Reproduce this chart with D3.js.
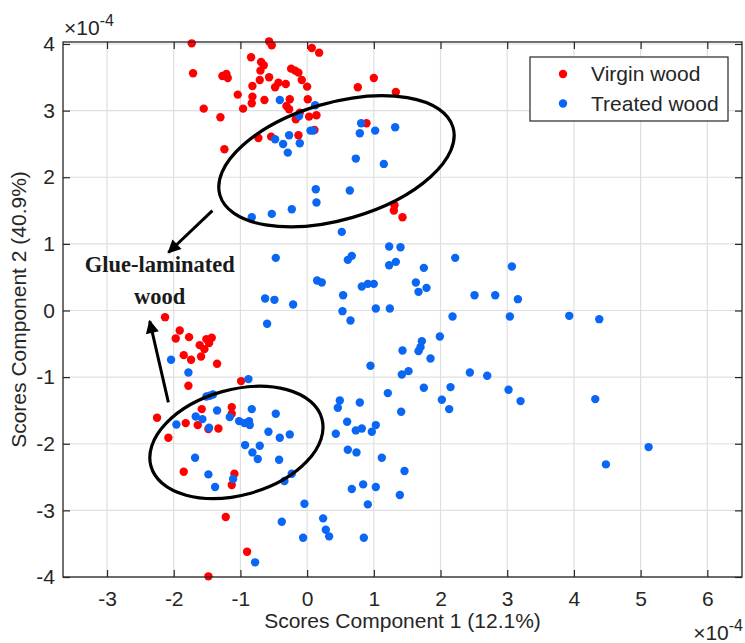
<!DOCTYPE html>
<html>
<head>
<meta charset="utf-8">
<script src="https://cdn.jsdelivr.net/npm/d3@7"></script>
<style>
  body { margin: 0; background: #fff; }
  svg { display: block; }
  text { font-family: "Liberation Sans", Arial, sans-serif; fill: #262626; }
</style>
</head>
<body>
<svg id="viz" width="745" height="643"></svg>
<script>
// scores, units of 1e-4
const virgin = [
  [-1.73, 4.01], [-0.57, 4.04], [-0.53, 3.98], [0.07, 3.94], [0.18, 3.87],
  [-0.84, 3.80], [-0.69, 3.73], [-0.65, 3.68], [-0.70, 3.60], [-1.71, 3.56],
  [-1.27, 3.52], [-1.21, 3.55], [-1.19, 3.49], [-0.57, 3.50], [-0.71, 3.46],
  [-0.24, 3.63], [-0.18, 3.60], [-0.13, 3.57], [-0.08, 3.46], [-0.43, 3.42],
  [-0.32, 3.40], [-0.48, 3.35], [0.00, 3.36], [-0.82, 3.37], [-1.04, 3.24],
  [-0.82, 3.21], [-0.83, 3.11], [-0.64, 3.16], [-0.26, 3.17], [0.01, 3.17],
  [-1.55, 3.03], [-0.96, 3.03], [-0.31, 3.07], [-0.27, 3.02], [-1.30, 2.90],
  [-0.11, 2.97], [-0.17, 2.87], [0.03, 2.91], [0.14, 2.93], [-0.73, 2.59],
  [-0.54, 2.61], [-0.13, 2.63], [0.11, 2.71], [-1.24, 2.42], [1.00, 3.49],
  [0.76, 3.35], [1.33, 3.28], [0.89, 2.81], [1.31, 1.58], [1.30, 1.50],
  [1.43, 1.40],
  [-2.13, -0.10], [-1.91, -0.30], [-1.97, -0.42], [-1.77, -0.40], [-1.51, -0.43],
  [-1.43, -0.41], [-1.47, -0.49], [-1.61, -0.52], [-1.54, -0.58], [-1.85, -0.67],
  [-1.74, -0.74], [-1.59, -0.69], [-1.35, -0.80], [-1.78, -1.13], [-0.99, -1.06],
  [-2.25, -1.61], [-2.08, -1.91], [-1.58, -1.48], [-1.82, -1.69], [-1.64, -1.72],
  [-1.48, -1.78], [-1.33, -1.77], [-1.13, -1.45], [-1.13, -1.55], [-1.85, -2.42],
  [-1.09, -2.45], [-1.13, -2.62], [-1.22, -3.10], [-0.90, -3.62], [-1.48, -3.99]
];

const treated = [
  [-0.41, 3.16], [-0.12, 2.92], [0.12, 3.08], [-0.48, 2.57], [-0.27, 2.63],
  [-0.36, 2.50], [-0.11, 2.51], [-0.29, 2.37], [0.05, 2.70], [0.09, 2.70],
  [0.81, 2.81], [0.79, 2.66], [1.02, 2.70], [1.32, 2.75], [0.73, 2.28],
  [1.15, 2.20], [0.13, 1.82], [0.64, 1.80], [0.14, 1.62], [-0.83, 1.40],
  [-0.53, 1.45], [-0.23, 1.52],
  [-0.47, 0.79], [-0.63, 0.18], [-0.49, 0.16], [-0.21, 0.09], [-0.60, -0.20],
  [0.52, 1.18], [1.23, 0.96], [1.40, 0.95], [0.61, 0.76], [0.67, 0.82],
  [1.23, 0.68], [1.33, 0.73], [1.75, 0.64], [2.22, 0.79], [3.07, 0.66],
  [0.15, 0.45], [0.22, 0.42], [0.82, 0.36], [0.91, 0.40], [1.00, 0.40],
  [1.63, 0.42], [1.67, 0.28], [1.79, 0.34], [0.54, 0.23], [2.51, 0.23],
  [2.82, 0.23], [3.16, 0.17], [0.53, -0.01], [0.65, -0.15], [1.03, 0.03],
  [1.24, 0.03], [2.18, -0.09], [3.04, -0.09], [3.93, -0.08], [4.38, -0.13],
  [1.99, -0.39], [1.72, -0.46], [1.70, -0.55], [1.67, -0.61], [1.43, -0.60],
  [1.85, -0.72], [0.95, -0.83], [1.42, -0.96], [1.52, -0.91], [2.44, -0.93],
  [2.70, -0.98], [1.21, -1.24], [1.75, -1.16], [2.15, -1.15], [3.02, -1.19],
  [3.20, -1.36], [4.32, -1.33], [5.12, -2.05], [4.48, -2.31],
  [0.49, -1.35], [0.46, -1.46], [0.79, -1.38], [2.02, -1.34], [2.13, -1.48],
  [1.41, -1.52], [0.60, -1.67], [0.43, -1.85], [0.73, -1.80], [0.82, -1.77],
  [1.03, -1.72], [0.97, -1.82], [0.61, -2.09], [0.74, -2.13], [1.12, -2.21],
  [1.46, -2.41], [0.67, -2.68], [0.84, -2.61], [1.03, -2.65], [1.39, -2.77],
  [0.91, -2.91], [-0.04, -2.90], [0.24, -3.12], [0.28, -3.29], [0.33, -3.39],
  [-0.06, -3.41], [0.85, -3.41],
  [-2.04, -0.74], [-1.78, -0.93], [-0.88, -1.03], [-1.51, -1.29], [-1.41, -1.26],
  [-1.46, -1.28], [-1.35, -1.50], [-1.67, -1.59], [-1.57, -1.63], [-1.96, -1.71],
  [-1.47, -1.76], [-1.16, -1.60], [-1.02, -1.66], [-0.94, -1.69], [-0.87, -1.66],
  [-0.86, -1.72], [-0.83, -1.48], [-0.47, -1.55], [-0.58, -1.82], [-0.41, -1.91],
  [-0.26, -1.86], [-0.93, -2.02], [-0.71, -2.03], [-0.82, -2.13], [-0.74, -2.23],
  [-0.42, -2.24], [-1.68, -2.21], [-1.48, -2.46], [-1.11, -2.53], [-1.38, -2.65],
  [-0.23, -2.45], [-0.34, -2.56], [-0.38, -3.17], [-0.78, -3.78]
];

const xTicks = [-3, -2, -1, 0, 1, 2, 3, 4, 5, 6];
const yTicks = [-4, -3, -2, -1, 0, 1, 2, 3, 4];
const seriesNames = ["Virgin wood", "Treated wood"];
const seriesColors = ["#ff0000", "#0a66f4"];

// annotation ellipses: center x, center y, semi-axis x, semi-axis y, tilt (deg)
const ellipses = [
  [0.44, 2.24, 1.82, 0.876, 16.2],
  [-1.06, -1.98, 1.33, 0.79, 15.6]
];
// arrows: from -> to
const arrows = [
  [[-1.42, 1.50], [-2.08, 0.87]],
  [[-2.08, -1.38], [-2.36, -0.16]]
];
const noteLines = ["Glue-laminated", "wood"];

const svg = d3.select("#viz");
const mLeft = 63, mRight = 742, mTop = 42, mBottom = 577;

const x = d3.scaleLinear().domain([-3.66, 6.52]).range([mLeft, mRight]);
const y = d3.scaleLinear().domain([-4, 4.03]).range([mBottom, mTop]);
const fmt = d => String(d);

// grid
const grid = svg.append("g");
grid.selectAll(".gx").data(xTicks).enter().append("line")
  .attr("x1", d => x(d)).attr("x2", d => x(d))
  .attr("y1", mTop).attr("y2", mBottom)
  .attr("stroke", "#dfdfdf").attr("stroke-width", 1.2);
grid.selectAll(".gy").data(yTicks).enter().append("line")
  .attr("y1", d => y(d)).attr("y2", d => y(d))
  .attr("x1", mLeft).attr("x2", mRight)
  .attr("stroke", "#dfdfdf").attr("stroke-width", 1.2);

// axes, ticks inward on all sides
const tk = 7;
svg.append("g").attr("transform", `translate(0,${mBottom})`)
  .call(d3.axisBottom(x).tickValues(xTicks).tickFormat(fmt).tickSizeInner(-tk).tickSizeOuter(0).tickPadding(14))
  .call(g => g.select(".domain").remove());
svg.append("g").attr("transform", `translate(0,${mTop})`)
  .call(d3.axisTop(x).tickValues(xTicks).tickSizeInner(-tk).tickSizeOuter(0).tickFormat(""))
  .call(g => g.select(".domain").remove());
svg.append("g").attr("transform", `translate(${mLeft},0)`)
  .call(d3.axisLeft(y).tickValues(yTicks).tickFormat(fmt).tickSizeInner(-tk).tickSizeOuter(0).tickPadding(8))
  .call(g => g.select(".domain").remove());
svg.append("g").attr("transform", `translate(${mRight},0)`)
  .call(d3.axisRight(y).tickValues(yTicks).tickSizeInner(-tk).tickSizeOuter(0).tickFormat(""))
  .call(g => g.select(".domain").remove());

svg.selectAll(".tick line").attr("stroke", "#262626").attr("stroke-width", 1.2);
svg.selectAll(".tick text")
  .style("font-family", "'Liberation Sans', Arial, sans-serif")
  .attr("font-size", 21).attr("fill", "#262626");

// points
const groups = [virgin, treated];
groups.forEach((pts, i) => {
  svg.append("g").selectAll("circle").data(pts).enter().append("circle")
    .attr("cx", d => x(d[0])).attr("cy", d => y(d[1]))
    .attr("r", 4.2).attr("fill", seriesColors[i]);
});

// box
svg.append("rect").attr("x", mLeft).attr("y", mTop)
  .attr("width", mRight - mLeft).attr("height", mBottom - mTop)
  .attr("fill", "none").attr("stroke", "#262626").attr("stroke-width", 1.3);

// ellipses
const pxPerUnit = x(1) - x(0);
svg.append("g").selectAll("ellipse").data(ellipses).enter().append("ellipse")
  .attr("transform", d => `translate(${x(d[0])},${y(d[1])}) rotate(${-d[4]})`)
  .attr("rx", d => d[2] * pxPerUnit).attr("ry", d => d[3] * pxPerUnit)
  .attr("fill", "none").attr("stroke", "#000").attr("stroke-width", 3.2);

// arrows
svg.append("defs").append("marker")
  .attr("id", "head").attr("viewBox", "0 0 10 10")
  .attr("refX", 9).attr("refY", 5)
  .attr("markerWidth", 5).attr("markerHeight", 4.4)
  .attr("markerUnits", "strokeWidth")
  .attr("orient", "auto")
  .append("path").attr("d", "M0,0 L10,5 L0,10 z").attr("fill", "#000");

svg.append("g").selectAll("line").data(arrows).enter().append("line")
  .attr("x1", d => x(d[0][0])).attr("y1", d => y(d[0][1]))
  .attr("x2", d => x(d[1][0])).attr("y2", d => y(d[1][1]))
  .attr("stroke", "#000").attr("stroke-width", 3)
  .attr("marker-end", "url(#head)");

// annotation text
svg.append("g").selectAll("text").data(noteLines).enter().append("text")
  .attr("x", x(-2.21))
  .attr("y", (d, i) => y(0.585) + i * 32)
  .attr("text-anchor", "middle")
  .style("font-family", "'Liberation Serif', 'Times New Roman', serif")
  .attr("font-weight", "bold").attr("font-size", 22.5)
  .style("fill", "#1a1a1a")
  .text(d => d);

// legend
const lg = svg.append("g");
lg.append("rect").attr("x", 530).attr("y", 57).attr("width", 198).attr("height", 64)
  .attr("fill", "#fff").attr("stroke", "#262626").attr("stroke-width", 1.2);
seriesNames.forEach((name, i) => {
  lg.append("circle").attr("cx", 563).attr("cy", 74 + i * 29.5).attr("r", 4.2)
    .attr("fill", seriesColors[i]);
  lg.append("text").attr("x", 591).attr("y", 74 + i * 29.5).attr("dy", "0.35em")
    .attr("font-size", 21).text(name);
});

// axis labels
svg.append("text").attr("x", (mLeft + mRight) / 2).attr("y", 628)
  .attr("text-anchor", "middle").attr("font-size", 21)
  .text("Scores Component 1 (12.1%)");
svg.append("text")
  .attr("transform", `translate(26,${(mTop + mBottom) / 2}) rotate(-90)`)
  .attr("text-anchor", "middle").attr("font-size", 21)
  .text("Scores Component 2 (40.9%)");

// exponent labels
const expTop = svg.append("text").attr("x", 64).attr("y", 35).attr("font-size", 21);
expTop.append("tspan").text("\u00d710");
expTop.append("tspan").attr("dy", -9).attr("font-size", 16).text("-4");
const expBot = svg.append("text").attr("x", 743).attr("y", 640)
  .attr("text-anchor", "end").attr("font-size", 21);
expBot.append("tspan").text("\u00d710");
expBot.append("tspan").attr("dy", -9).attr("font-size", 16).text("-4");
</script>
</body>
</html>
